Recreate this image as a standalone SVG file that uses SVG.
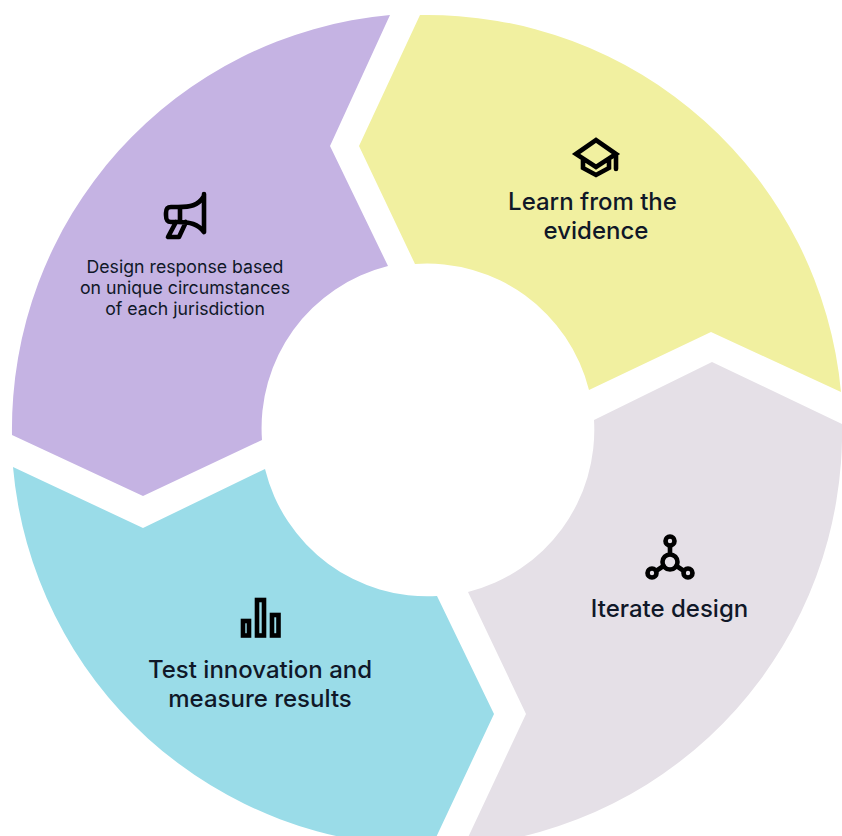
<svg xmlns="http://www.w3.org/2000/svg" width="842" height="836" viewBox="0 0 842 836">
<style>
text{font-family:Inter,"Liberation Sans",sans-serif;fill:#101828;text-anchor:middle}
.l{font-size:24px;font-weight:500}
.s{font-size:17.700px;font-weight:400}
.i{fill:none;stroke:#000;stroke-width:4.600;stroke-linejoin:miter;stroke-linecap:round}
</style>
<rect width="842" height="836" fill="#fff"/>
<g id="learn">
<path d="M420 15A415.500 415.500 0 0 1 841 392L711 332L589 390A167 167 0 0 0 415 264L359 146Z" fill="#f1f0a0"/>
<path class="i" d="M576 154L596 140L616 154L596 167ZM583 159V168L596 175L609 168V159M616 154V169"/>
<text class="l" x="592.500" y="210">Learn from the</text>
<text class="l" x="596" y="239">evidence</text>
</g>
<g id="iterate">
<path d="M712 362L842 424A415.500 415.500 0 0 1 464 846L526 714L468 592A167 167 0 0 0 594 420Z" fill="#e5e0e7"/>
<g class="i"><circle cx="670" cy="541" r="4.500"/><circle cx="670" cy="562" r="7.500"/><circle cx="652" cy="573" r="4.500"/><circle cx="688" cy="573" r="4.500"/><path d="M670 546V554M663.500 566L656 571M676.500 566L684 571"/></g>
<text class="l" x="669.500" y="617">Iterate design</text>
</g>
<g id="test">
<path d="M13 467L143 528L265 469A167 167 0 0 0 437 596L494 714L432 846A415.500 415.500 0 0 1 13 467Z" fill="#9adce8"/>
<g class="i"><rect x="243" y="621" width="6" height="14.500"/><rect x="257" y="600" width="7" height="35.500"/><rect x="272" y="615" width="6.500" height="20.500"/></g>
<text class="l" x="260" y="678">Test innovation and</text>
<text class="l" x="260" y="707">measure results</text>
</g>
<g id="design">
<path d="M390 15L330 146L388 266A167 167 0 0 0 262 440L143 496L12 435A415.500 415.500 0 0 1 390 15Z" fill="#c5b3e3"/>
<path class="i" style="stroke-linejoin:round" d="M204 194V232M204 196C198 206 190 207 178 207H171C167 207 166 209 166 213V215C166 220 167 222 171 222H178C190 222 198 224 204 232M180 208V222M176 222L168 237H179L186 222"/>
<text class="s" x="185" y="273">Design response based</text>
<text class="s" x="185" y="294">on unique circumstances</text>
<text class="s" x="185" y="315">of each jurisdiction</text>
</g>
<g id="connectors"/>
</svg>
